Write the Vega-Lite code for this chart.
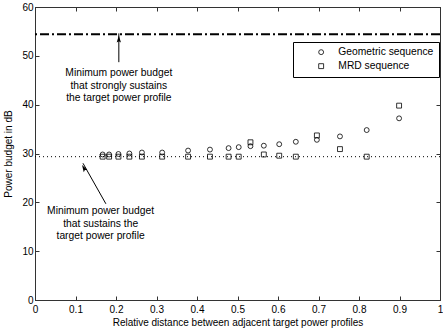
{
  "$schema": "https://vega.github.io/schema/vega-lite/v6.json",
  "width": 405,
  "height": 293,
  "autosize": {"type": "none"},
  "padding": {"left": 35, "top": 7, "right": 3, "bottom": 32},
  "background": "white",
  "config": {
    "font": "Liberation Sans",
    "view": {"stroke": "#333333", "strokeWidth": 1},
    "axis": {"grid": false, "domainColor": "#333333", "tickColor": "#333333", "labelColor": "black", "titleColor": "black", "labelFont": "Liberation Sans", "titleFont": "Liberation Sans", "labelFontSize": 10, "titleFontSize": 10, "titleFontWeight": "normal"}
  },
  "datasets": {
    "points": [
      {"d": 0.167, "p": 29.8, "series": "Geometric sequence"},
      {"d": 0.183, "p": 29.8, "series": "Geometric sequence"},
      {"d": 0.206, "p": 29.9, "series": "Geometric sequence"},
      {"d": 0.233, "p": 30.0, "series": "Geometric sequence"},
      {"d": 0.264, "p": 30.2, "series": "Geometric sequence"},
      {"d": 0.314, "p": 30.2, "series": "Geometric sequence"},
      {"d": 0.378, "p": 30.6, "series": "Geometric sequence"},
      {"d": 0.432, "p": 30.8, "series": "Geometric sequence"},
      {"d": 0.478, "p": 31.1, "series": "Geometric sequence"},
      {"d": 0.503, "p": 31.3, "series": "Geometric sequence"},
      {"d": 0.532, "p": 31.5, "series": "Geometric sequence"},
      {"d": 0.565, "p": 31.6, "series": "Geometric sequence"},
      {"d": 0.603, "p": 31.9, "series": "Geometric sequence"},
      {"d": 0.644, "p": 32.4, "series": "Geometric sequence"},
      {"d": 0.696, "p": 32.8, "series": "Geometric sequence"},
      {"d": 0.753, "p": 33.5, "series": "Geometric sequence"},
      {"d": 0.819, "p": 34.8, "series": "Geometric sequence"},
      {"d": 0.899, "p": 37.2, "series": "Geometric sequence"},
      {"d": 0.167, "p": 29.35, "series": "MRD sequence"},
      {"d": 0.183, "p": 29.35, "series": "MRD sequence"},
      {"d": 0.206, "p": 29.35, "series": "MRD sequence"},
      {"d": 0.233, "p": 29.35, "series": "MRD sequence"},
      {"d": 0.264, "p": 29.35, "series": "MRD sequence"},
      {"d": 0.314, "p": 29.35, "series": "MRD sequence"},
      {"d": 0.378, "p": 29.35, "series": "MRD sequence"},
      {"d": 0.432, "p": 29.35, "series": "MRD sequence"},
      {"d": 0.478, "p": 29.35, "series": "MRD sequence"},
      {"d": 0.503, "p": 29.35, "series": "MRD sequence"},
      {"d": 0.532, "p": 32.3, "series": "MRD sequence"},
      {"d": 0.565, "p": 29.8, "series": "MRD sequence"},
      {"d": 0.603, "p": 29.55, "series": "MRD sequence"},
      {"d": 0.644, "p": 29.35, "series": "MRD sequence"},
      {"d": 0.696, "p": 33.7, "series": "MRD sequence"},
      {"d": 0.753, "p": 30.9, "series": "MRD sequence"},
      {"d": 0.819, "p": 29.35, "series": "MRD sequence"},
      {"d": 0.899, "p": 39.8, "series": "MRD sequence"}
    ]
  },
  "layer": [
    {
      "data": {"values": [{"level": 54.4}]},
      "mark": {"type": "rule", "color": "black", "strokeWidth": 2, "strokeDash": [9, 3, 2, 3]},
      "encoding": {"y": {"field": "level", "type": "quantitative", "scale": {"domain": [0, 60], "nice": false}, "axis": null}}
    },
    {
      "data": {"values": [{"level": 29.35}]},
      "mark": {"type": "rule", "color": "black", "strokeWidth": 1, "strokeDash": [1, 3]},
      "encoding": {"y": {"field": "level", "type": "quantitative", "axis": null}}
    },
    {
      "data": {"values": [
        {"x1": 0.207, "y1": 48.7, "x2": 0.207, "y2": 54.6},
        {"x1": 0.175, "y1": 19.7, "x2": 0.1185, "y2": 28.0}
      ]},
      "mark": {"type": "rule", "color": "black", "strokeWidth": 1},
      "encoding": {
        "x": {"field": "x1", "type": "quantitative", "scale": {"domain": [0, 1], "nice": false}, "axis": null},
        "y": {"field": "y1", "type": "quantitative", "axis": null},
        "x2": {"field": "x2"},
        "y2": {"field": "y2"}
      }
    },
    {
      "data": {"values": [
        {"x": 0.207, "y": 53.2, "angle": 0},
        {"x": 0.122, "y": 26.8, "angle": -30}
      ]},
      "mark": {"type": "point", "shape": "M0,-1L0.45,0.5L0,0.2L-0.45,0.5Z", "filled": true, "color": "black", "size": 90, "opacity": 1},
      "encoding": {
        "x": {"field": "x", "type": "quantitative", "axis": null},
        "y": {"field": "y", "type": "quantitative", "axis": null},
        "angle": {"field": "angle", "type": "quantitative", "scale": null}
      }
    },
    {
      "data": {"values": [
        {"x": 0.207, "y": 46.5, "t": "Minimum power budget"},
        {"x": 0.207, "y": 43.9, "t": "that strongly sustains"},
        {"x": 0.207, "y": 41.4, "t": "the target power profile"},
        {"x": 0.162, "y": 18.2, "t": "Minimum power budget"},
        {"x": 0.162, "y": 15.6, "t": "that sustains the"},
        {"x": 0.162, "y": 13.1, "t": "target power profile"}
      ]},
      "mark": {"type": "text", "font": "Liberation Sans", "fontSize": 10.3, "color": "black", "align": "center", "baseline": "middle"},
      "encoding": {
        "x": {"field": "x", "type": "quantitative", "axis": null},
        "y": {"field": "y", "type": "quantitative", "axis": null},
        "text": {"field": "t"}
      }
    },
    {
      "data": {"name": "points"},
      "mark": {"type": "point", "filled": false, "color": "black", "strokeWidth": 0.8, "size": 24, "opacity": 1},
      "encoding": {
        "x": {"field": "d", "type": "quantitative",
          "axis": {"title": "Relative distance between adjacent target power profiles", "values": [0, 0.1, 0.2, 0.3, 0.4, 0.5, 0.6, 0.7, 0.8, 0.9, 1], "format": "~g", "tickSize": -4, "labelPadding": 8, "titlePadding": 3, "labelFlush": false}},
        "y": {"field": "p", "type": "quantitative",
          "axis": {"title": "Power budget in dB", "values": [0, 10, 20, 30, 40, 50, 60], "tickSize": -4, "labelPadding": 6, "titlePadding": 8}},
        "shape": {"field": "series", "type": "nominal", "scale": {"domain": ["Geometric sequence", "MRD sequence"], "range": ["circle", "square"]},
          "legend": {"title": null, "orient": "none", "legendX": 258, "legendY": 35, "strokeColor": "black", "fillColor": "white", "padding": 5, "symbolOffset": 18, "labelOffset": 12, "labelFontSize": 10.3, "labelFont": "Liberation Sans", "labelColor": "black", "symbolStrokeColor": "black", "symbolFillColor": "white", "symbolStrokeWidth": 0.8, "symbolSize": 24, "rowPadding": 3, "cornerRadius": 0}}
      }
    },
    {
      "data": {"name": "points"},
      "mark": {"type": "point", "opacity": 0},
      "encoding": {
        "x": {"field": "d", "type": "quantitative", "axis": {"orient": "top", "title": null, "labels": false, "values": [0, 0.1, 0.2, 0.3, 0.4, 0.5, 0.6, 0.7, 0.8, 0.9, 1], "tickSize": -4}},
        "y": {"field": "p", "type": "quantitative", "axis": {"orient": "right", "title": null, "labels": false, "values": [0, 10, 20, 30, 40, 50, 60], "tickSize": -4}}
      }
    }
  ],
  "resolve": {"axis": {"x": "independent", "y": "independent"}}
}
